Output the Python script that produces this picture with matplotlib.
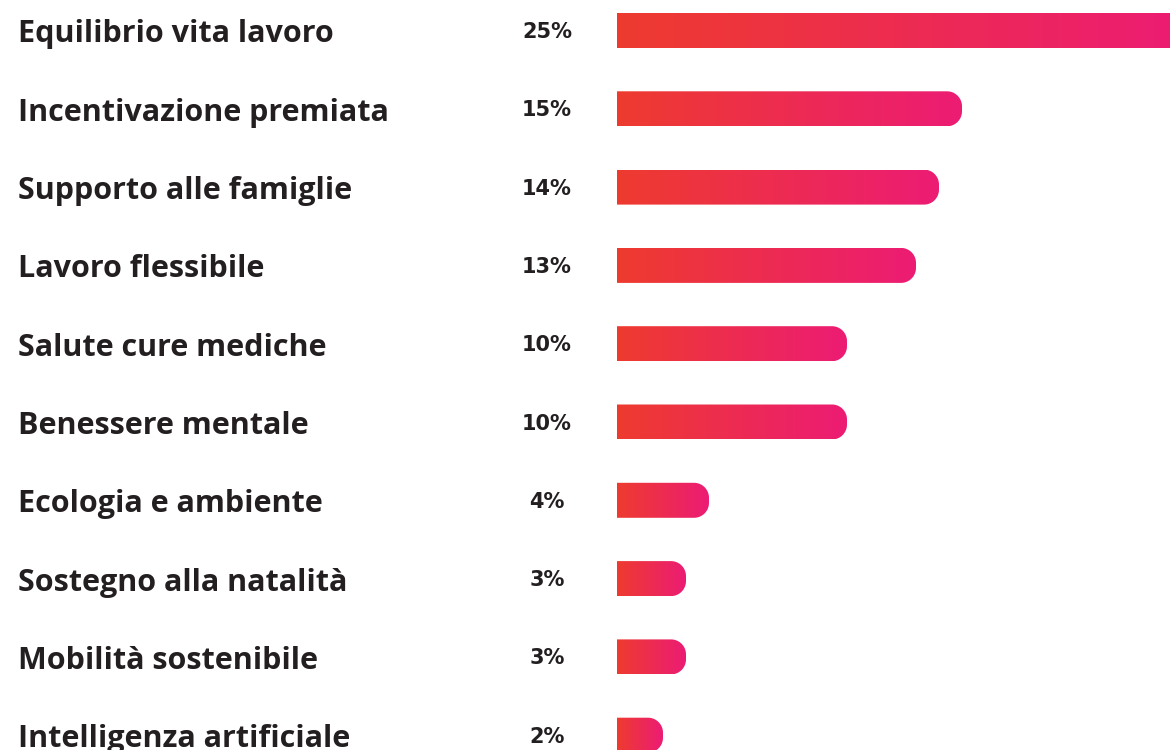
import numpy as np
import matplotlib
matplotlib.use("Agg")
import matplotlib.pyplot as plt
from matplotlib.colors import LinearSegmentedColormap
from matplotlib.path import Path
from matplotlib.patches import PathPatch
from matplotlib.transforms import blended_transform_factory

categories = ["Equilibrio vita lavoro", "Incentivazione premiata", "Supporto alle famiglie",
              "Lavoro flessibile", "Salute cure mediche", "Benessere mentale",
              "Ecologia e ambiente", "Sostegno alla natalità", "Mobilità sostenibile",
              "Intelligenza artificiale"]
values = [25, 15, 14, 13, 10, 10, 4, 3, 3, 2]
value_labels = ["25%", "15%", "14%", "13%", "10%", "10%", "4%", "3%", "3%", "2%"]

W, H, DPI = 1170, 750, 100
BAR_X0 = 617          # px, where the bars start
PX_PER_PCT = 23.0     # px per percent point
ROW0, ROW_STEP = 30.5, 78.3   # px, centre of first row, row spacing
BAR_H_PX = 35
RADIUS_PX = 15

cmap = LinearSegmentedColormap.from_list("grad", ["#ee3b2f", "#ec1c74"])

fig = plt.figure(figsize=(W / DPI, H / DPI), dpi=DPI)
xmax = 27
ax = fig.add_axes([BAR_X0 / W, 0, xmax * PX_PER_PCT / W, 1])
ax.set_xlim(0, xmax)
ax.set_ylim((H - ROW0) / ROW_STEP, -ROW0 / ROW_STEP)
ax.axis("off")

# data units per pixel
ux = 1.0 / PX_PER_PCT
uy = 1.0 / ROW_STEP
h = BAR_H_PX * uy
rx, ry = RADIUS_PX * ux, RADIUS_PX * uy


def bar_path(y, v):
    """rectangle from x=0 to v, square left end, rounded right corners."""
    top, bot = y - h / 2, y + h / 2
    t = np.linspace(0, np.pi / 2, 20)
    c1 = np.column_stack([v - rx + rx * np.sin(t), top + ry - ry * np.cos(t)])
    c2 = np.column_stack([v - rx + rx * np.cos(t), bot - ry + ry * np.sin(t)])
    pts = np.vstack([[0, top], c1, c2, [0, bot], [0, top]])
    return Path(pts, closed=True)


grad = np.linspace(0, 1, 256).reshape(1, -1)
for i, v in enumerate(values):
    patch = PathPatch(bar_path(i, v), facecolor="none", edgecolor="none")
    ax.add_patch(patch)
    im = ax.imshow(grad, cmap=cmap, aspect="auto", interpolation="bilinear",
                   extent=[0, v, i + h / 2, i - h / 2], zorder=2)
    im.set_clip_path(patch)

trans = blended_transform_factory(fig.transFigure, ax.transData)
for i, (name, lab) in enumerate(zip(categories, value_labels)):
    ax.text(18 / W, i + 0.05, name, transform=trans, ha="left", va="center",
            fontsize=22, fontweight="bold", family="Open Sans", color="#231f20")
    ax.text(547 / W, i + 0.02, lab, transform=trans, ha="center", va="center",
            fontsize=15, fontweight="bold", family="DejaVu Sans", color="#231f20")

ax.set_xlim(0, xmax)
ax.set_ylim((H - ROW0) / ROW_STEP, -ROW0 / ROW_STEP)
fig.savefig("out.png", dpi=DPI)
